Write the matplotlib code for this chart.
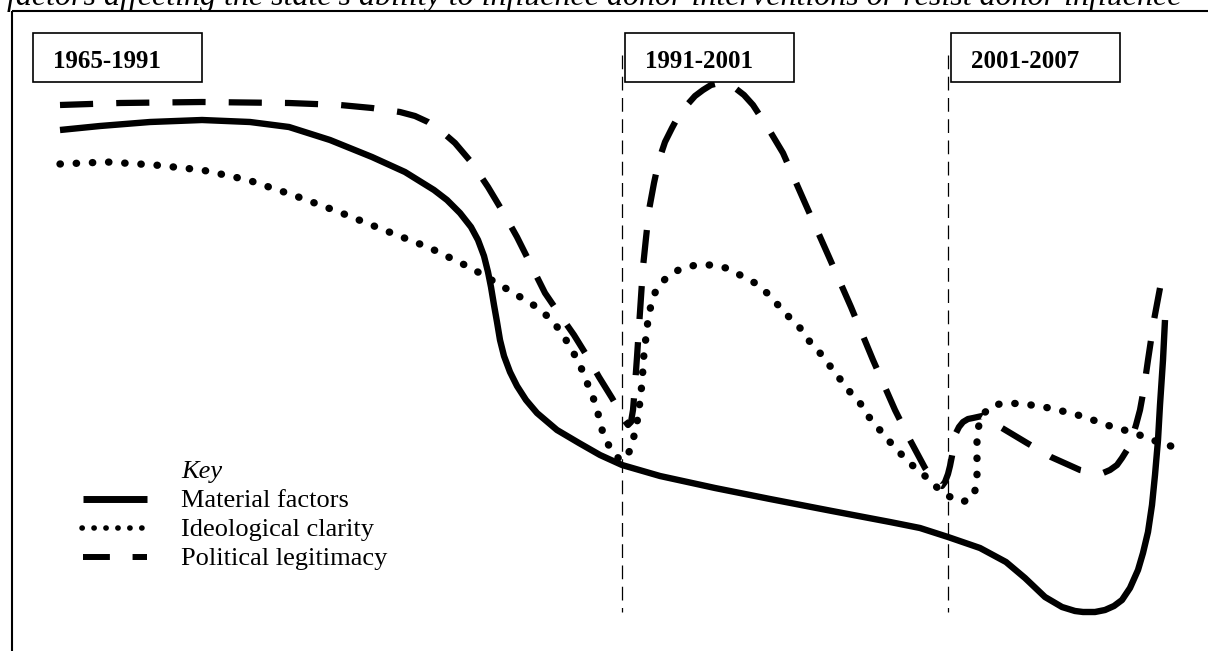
import matplotlib
matplotlib.use("Agg")
import matplotlib.pyplot as plt
from matplotlib.patches import Rectangle

plt.rcParams['font.family'] = ['Liberation Serif', 'DejaVu Serif']

material_x = [60, 100, 150, 202, 250, 289, 330, 372, 405, 434, 447, 460, 471, 478, 484, 488, 491,
              494, 497, 500, 504, 510, 517, 526, 537, 557, 579, 600, 622, 660, 715, 770, 832, 890,
              920, 948, 980, 1006, 1025, 1045, 1062, 1075, 1083, 1095, 1105, 1114, 1122, 1130,
              1138, 1143, 1148, 1152, 1155, 1158, 1160, 1163, 1165]
material_y = [130, 126, 122, 120, 122, 127, 140, 157, 172, 190, 200, 213, 227, 240, 256, 272, 287,
              305, 322, 340, 356, 372, 386, 400, 413, 430, 443, 455, 465, 476, 488, 499, 511, 522,
              528, 537, 548, 562, 578, 597, 607, 611, 612, 612, 610, 606, 600, 588, 570, 553, 532,
              505, 475, 440, 405, 360, 320]

ideology_x = [60, 107, 155, 202, 248, 293, 339, 384, 430, 471, 512, 535, 552, 563, 572, 580,
              590, 596, 600, 604, 612, 620, 626, 631, 635, 638, 640, 642, 644, 646, 648, 651,
              656, 666, 680, 696, 712, 726, 740, 755, 767, 778, 789, 800, 810, 820, 830, 840,
              850, 860, 869, 879, 890, 900, 912, 924, 934, 948, 963, 974, 977, 977, 977, 982,
              993, 1008, 1023, 1039, 1054, 1070, 1085, 1101, 1116, 1132, 1147, 1161, 1177]
ideology_y = [164, 162, 165, 170, 180, 195, 212, 230, 248, 268, 292, 306, 320, 335, 350, 365,
              390, 405, 422, 437, 451, 460, 458, 448, 432, 417, 401, 383, 353, 337, 320, 305,
              290, 278, 269, 265, 265, 268, 275, 283, 293, 305, 317, 328, 342, 353, 366, 379,
              392, 403, 417, 429, 442, 453, 465, 475, 485, 496, 502, 496, 479, 448, 432, 415,
              405, 403, 404, 406, 409, 413, 417, 423, 428, 432, 438, 443, 448]

legitimacy_x = [60, 120, 202, 289, 340, 372, 400, 415, 428, 440, 455, 472, 488, 503, 517, 531, 545,
                560, 574, 587, 599, 612, 620, 625, 628, 631, 633, 635, 637, 639, 641, 643, 646,
                649, 654, 659, 665, 672, 679, 687, 695, 703, 711, 719, 727, 735, 744, 753, 768,
                783, 805, 829, 851, 873, 895, 910, 925, 933, 938, 942, 945, 948, 950, 952,
                954, 956, 959, 963, 968, 973, 982, 1002, 1027, 1051, 1080, 1095, 1103, 1110,
                1117, 1122, 1127, 1132, 1136, 1140, 1144, 1148, 1154, 1160]
legitimacy_y = [105, 103, 102, 103, 105, 108, 112, 116, 122, 130, 143, 163, 187, 212, 237, 265, 293,
                315, 335, 356, 377, 398, 412, 421, 425, 422, 410, 385, 357, 327, 297, 267, 238,
                210, 183, 160, 142, 128, 115, 105, 96, 90, 85, 83, 84, 88, 95, 105, 128,
                153, 203, 257, 307, 360, 410, 440, 468, 479, 484, 486, 482, 474, 466, 456,
                445, 433, 427, 422, 419, 418, 416, 428, 443, 457, 470, 473, 473, 470,
                465, 458, 450, 438, 425, 410, 388, 360, 320, 288]

period_labels = ['1965-1991', '1991-2001', '2001-2007']
period_breaks = [622, 948]
series_labels = ['Material factors', 'Ideological clarity', 'Political legitimacy']

title = "factors affecting the state's ability to influence donor interventions or resist donor influence"

fig = plt.figure(figsize=(12.08, 6.51), dpi=100)
ax = fig.add_axes([0, 0, 1, 1])
ax.set_xlim(0, 1208)
ax.set_ylim(651, 0)
ax.axis('off')

# frame (top + left only)
ax.plot([12, 1208], [11, 11], color='black', lw=1.5, solid_capstyle='butt')
ax.plot([12, 12], [11, 651], color='black', lw=1.5, solid_capstyle='butt')
ax.text(7, 5, title, fontsize=23, style='italic', va='baseline', ha='left')

# period dividers
for bx in period_breaks:
    ax.plot([bx, bx], [55, 612], color='black', lw=0.9, dashes=(11, 6))

# period boxes
box_left = [33, 625, 951]
for lab, bl in zip(period_labels, box_left):
    ax.add_patch(Rectangle((bl, 33), 169, 49, fill=True, facecolor='white',
                           edgecolor='black', lw=1.2, zorder=3))
    ax.text(bl + 20, 68, lab, fontsize=18, fontweight='bold', va='baseline', zorder=4)

ax.plot(material_x, material_y, color='black', lw=4.6, solid_joinstyle='round',
        solid_capstyle='butt')
ax.plot(ideology_x, ideology_y, color='black', lw=5.3, dashes=(0.05, 2.15),
        dash_capstyle='round')
ax.plot(legitimacy_x, legitimacy_y, color='black', lw=4.5, dashes=(5.3, 3.7),
        dash_capstyle='butt', dash_joinstyle='round')

# hand-drawn key
ax.text(181, 478, 'Key', fontsize=19, style='italic', va='baseline')
ax.plot([83, 147], [499, 499], color='black', lw=5, solid_capstyle='butt')
ax.plot([82, 145], [528, 528], color='black', lw=4.0, dashes=(0.05, 2.1), dash_capstyle='round')
ax.plot([83, 147], [557, 557], color='black', lw=4.3, dashes=(4.5, 3.8), dash_capstyle='butt')
for lab, yb in zip(series_labels, [507, 536, 565]):
    ax.text(181, yb, lab, fontsize=19, va='baseline')

fig.savefig('out.png', dpi=100)
